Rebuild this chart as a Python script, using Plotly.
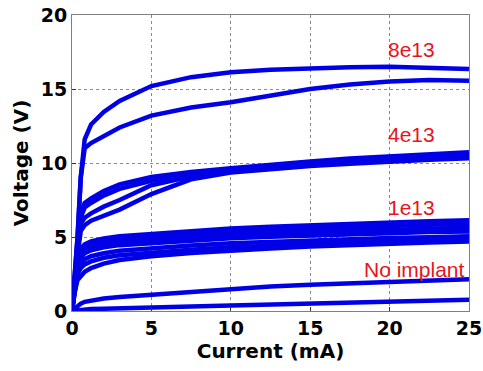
import plotly.graph_objects as go

# Current sample points (mA), shared by all measured curves
current = [0, 0.15, 0.35, 0.55, 0.8, 1.2, 2, 3, 5, 7.5, 10, 12.5, 15, 17.5, 20, 22.5, 25]

# 8e13 implant curves (V)
v_8e13_a = [0, 2.0, 5.0, 9.0, 11.6, 12.6, 13.45, 14.2, 15.2, 15.8, 16.13, 16.3, 16.4, 16.47, 16.5, 16.45, 16.35]
v_8e13_b = [0, 2.0, 5.0, 9.0, 11.0, 11.35, 11.85, 12.4, 13.2, 13.75, 14.1, 14.55, 15.0, 15.3, 15.5, 15.6, 15.55]

# 4e13 implant curves (V)
v_4e13_a = [0, 2.0, 4.5, 6.6, 7.3, 7.6, 8.1, 8.55, 9.05, 9.4, 9.65, 9.9, 10.1, 10.3, 10.45, 10.6, 10.72]
v_4e13_b = [0, 2.0, 4.3, 6.3, 7.0, 7.3, 7.8, 8.25, 8.8, 9.25, 9.55, 9.8, 10.0, 10.15, 10.3, 10.45, 10.55]
v_4e13_c = [0, 2.0, 4.1, 5.9, 6.3, 6.6, 7.05, 7.5, 8.5, 9.1, 9.45, 9.7, 9.9, 10.05, 10.2, 10.32, 10.4]
v_4e13_d = [0, 1.8, 3.8, 5.4, 5.8, 6.1, 6.45, 6.85, 7.9, 8.9, 9.35, 9.6, 9.8, 9.95, 10.1, 10.22, 10.32]

# 1e13 implant curves (V)
v_1e13_1 = [0, 1.8, 3.7, 4.2, 4.5, 4.7, 4.9, 5.05, 5.22, 5.42, 5.58, 5.7, 5.81, 5.91, 6.0, 6.07, 6.13]
v_1e13_2 = [0, 1.7, 3.5, 4.0, 4.3, 4.5, 4.7, 4.85, 5.0, 5.19, 5.35, 5.47, 5.57, 5.67, 5.75, 5.82, 5.88]
v_1e13_3 = [0, 1.6, 3.3, 3.8, 4.1, 4.3, 4.5, 4.65, 4.8, 4.98, 5.13, 5.23, 5.33, 5.42, 5.5, 5.56, 5.62]
v_1e13_4 = [0, 1.5, 3.1, 3.6, 3.9, 4.1, 4.3, 4.45, 4.6, 4.77, 4.91, 5.01, 5.11, 5.19, 5.26, 5.33, 5.38]
v_1e13_5 = [0, 1.4, 2.8, 3.2, 3.5, 3.7, 3.9, 4.07, 4.25, 4.43, 4.57, 4.67, 4.77, 4.86, 4.93, 4.99, 5.05]
v_1e13_6 = [0, 1.3, 2.5, 2.9, 3.15, 3.35, 3.6, 3.77, 3.95, 4.14, 4.3, 4.41, 4.52, 4.61, 4.69, 4.76, 4.82]
v_1e13_7 = [0, 1.2, 2.1, 2.4, 2.65, 2.9, 3.2, 3.45, 3.7, 3.92, 4.1, 4.23, 4.35, 4.46, 4.55, 4.63, 4.7]

# No implant curves (V)
v_none_1 = [0, 0.15, 0.35, 0.5, 0.62, 0.72, 0.85, 0.95, 1.1, 1.33, 1.53, 1.66, 1.78, 1.88, 1.98, 2.07, 2.14]
v_none_2 = [0, 0.02, 0.05, 0.08, 0.1, 0.13, 0.16, 0.2, 0.25, 0.31, 0.38, 0.45, 0.52, 0.6, 0.68, 0.72, 0.76]

curves = [v_none_2, v_none_1,
          v_1e13_7, v_1e13_6, v_1e13_5, v_1e13_4, v_1e13_3, v_1e13_2, v_1e13_1,
          v_4e13_d, v_4e13_c, v_4e13_b, v_4e13_a,
          v_8e13_b, v_8e13_a]

# Group labels
label_text = ["8e13", "4e13", "1e13", "No implant"]
label_x = [21.4, 21.4, 21.4, 24.9]
label_y = [17.65, 11.9, 7.0, 2.8]

x_ticks = [0, 5, 10, 15, 20, 25]
y_ticks = [0, 5, 10, 15, 20]

blue = "#0000E6"
fig = go.Figure()
for v in curves:
    fig.add_trace(go.Scatter(x=current, y=v, mode="lines",
                             line=dict(color=blue, width=4.5),
                             showlegend=False, hoverinfo="skip"))

for t, x, y in zip(label_text, label_x, label_y):
    fig.add_annotation(x=x, y=y, text=t, showarrow=False,
                       xanchor="right" if t == "No implant" else "center",
                       yanchor="middle",
                       font=dict(family="Liberation Sans, Arial", size=21, color="#E8141C"))

axis_common = dict(showgrid=True, gridcolor="#8a8a8a", griddash="dot", gridwidth=1,
                   showline=True, linecolor="#808080", linewidth=1, mirror=True,
                   ticks="inside", ticklen=4, tickcolor="#333333",
                   zeroline=False, automargin=False,
                   tickfont=dict(family="DejaVu Sans, Arial", size=19, color="black", weight="bold"))

fig.update_xaxes(range=[0, 25], tickvals=x_ticks,
                 title=dict(text="<b>Current (mA)</b>", standoff=4,
                            font=dict(family="DejaVu Sans, Arial", size=20, color="black")),
                 **axis_common)
fig.update_yaxes(range=[0, 20], tickvals=y_ticks,
                 title=dict(text="<b>Voltage (V)</b>", standoff=6,
                            font=dict(family="DejaVu Sans, Arial", size=20, color="black")),
                 **axis_common)

fig.update_layout(width=483, height=371,
                  margin=dict(l=72, r=14, t=15, b=60),
                  plot_bgcolor="white", paper_bgcolor="white")

fig.write_html("out.html", config={"displayModeBar": False},
               post_script="document.body.style.margin='0';")
